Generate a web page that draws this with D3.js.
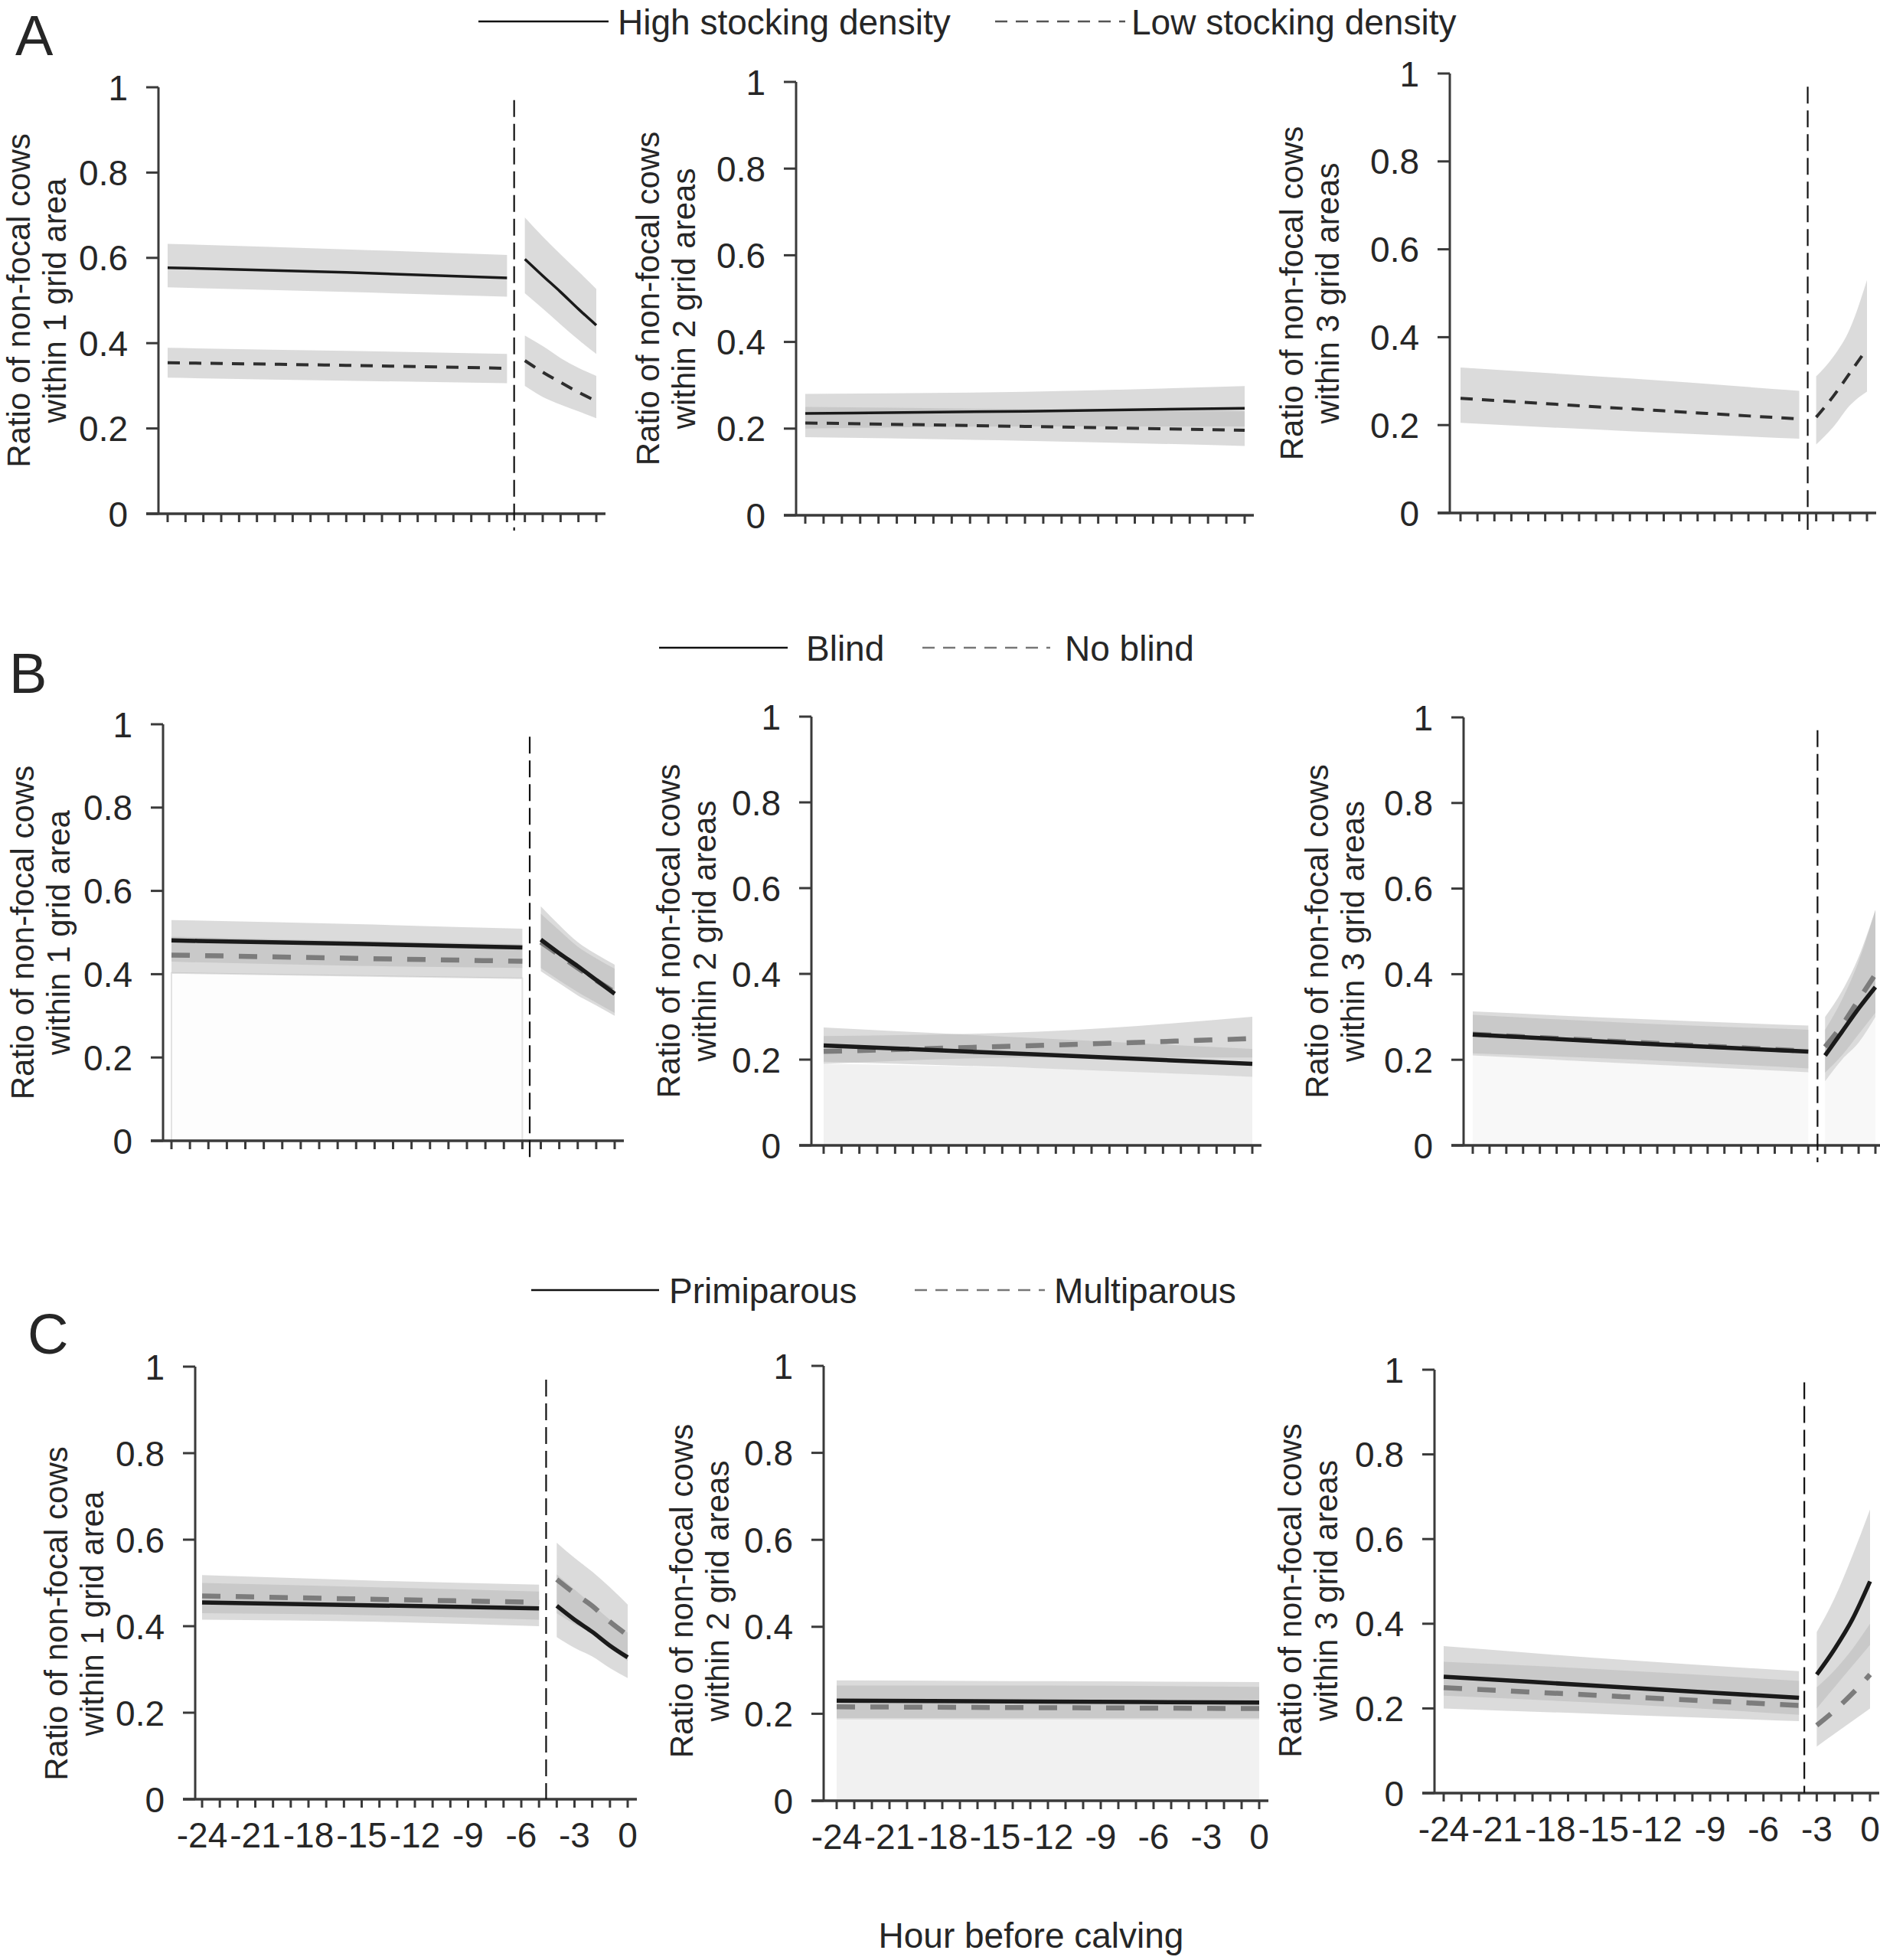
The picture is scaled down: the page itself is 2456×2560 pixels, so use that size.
<!DOCTYPE html>
<html>
<head>
<meta charset="utf-8">
<script src="https://cdn.jsdelivr.net/npm/d3@7/dist/d3.min.js"></script>
<style>
  body { margin: 0; background: #fff; }
  text { font-family: "Liberation Sans", Arial, sans-serif; fill: #262626; }
</style>
</head>
<body>
<div id="chart"></div>
<script>
// hours (-24 .. 0, hour before calving)
const hoursCol1 = [-24, -14, -5, -4, -3, -2, -1, 0];
const hoursCol2 = [-24, -12, 0];
const hoursCol3 = [-24, -14, -4, -3, -2, -1, 0];
const breakHours = [-4.6, null, -3.5, -4.6, null, -3.45, -4.6, null, -3.7];
const xTickLabels = [-24, -21, -18, -15, -12, -9, -6, -3, 0];
const yTickValues = [0, 0.2, 0.4, 0.6, 0.8, 1];

// [mean, lower, upper] per hour
const a1High = [[0.577,0.531,0.633],[0.566,0.520,0.620],[0.553,0.509,0.607],[0.597,0.517,0.695],[0.558,0.481,0.650],[0.520,0.444,0.608],[0.480,0.408,0.568],[0.442,0.375,0.527]];
const a1Low  = [[0.354,0.319,0.389],[0.348,0.312,0.382],[0.341,0.306,0.375],[0.359,0.300,0.418],[0.332,0.274,0.393],[0.308,0.256,0.365],[0.285,0.240,0.342],[0.264,0.224,0.323]];
const a2High = [[0.235,0.200,0.280],[0.240,0.205,0.285],[0.247,0.205,0.298]];
const a2Low  = [[0.213,0.180,0.250],[0.205,0.172,0.245],[0.196,0.160,0.240]];
const a3Low  = [[0.261,0.205,0.331],[0.237,0.186,0.306],[0.214,0.169,0.278],[0.218,0.156,0.311],[0.265,0.195,0.355],[0.319,0.245,0.420],[0.374,0.276,0.530]];

const b1Blind   = [[0.481,0.430,0.530],[0.473,0.420,0.520],[0.464,0.415,0.509],[0.483,0.407,0.563],[0.450,0.378,0.518],[0.419,0.349,0.477],[0.386,0.325,0.448],[0.353,0.300,0.423]];
const b1NoBlind = [[0.446,0.403,0.490],[0.438,0.396,0.480],[0.431,0.390,0.472],[0.477,0.415,0.545],[0.446,0.385,0.505],[0.415,0.357,0.466],[0.385,0.332,0.438],[0.357,0.307,0.413]];
const b2Blind   = [[0.233,0.195,0.275],[0.212,0.180,0.250],[0.190,0.160,0.225]];
const b2NoBlind = [[0.219,0.190,0.255],[0.233,0.205,0.265],[0.249,0.205,0.300]];
const b3Blind   = [[0.259,0.210,0.313],[0.238,0.190,0.295],[0.219,0.171,0.280],[0.210,0.150,0.270],[0.265,0.200,0.340],[0.320,0.240,0.430],[0.370,0.300,0.550]];
const b3NoBlind = [[0.260,0.215,0.305],[0.240,0.200,0.285],[0.220,0.180,0.270],[0.230,0.170,0.300],[0.280,0.210,0.360],[0.340,0.260,0.440],[0.400,0.310,0.550]];

const c1Prim  = [[0.455,0.415,0.500],[0.448,0.410,0.490],[0.441,0.400,0.480],[0.447,0.375,0.520],[0.415,0.350,0.485],[0.387,0.330,0.450],[0.355,0.303,0.415],[0.328,0.280,0.385]];
const c1Multi = [[0.470,0.430,0.518],[0.462,0.425,0.505],[0.455,0.415,0.496],[0.508,0.430,0.593],[0.476,0.405,0.558],[0.447,0.385,0.526],[0.410,0.350,0.490],[0.379,0.320,0.450]];
const c2Prim  = [[0.230,0.190,0.265],[0.228,0.190,0.265],[0.226,0.190,0.262]];
const c2Multi = [[0.216,0.187,0.277],[0.214,0.187,0.275],[0.212,0.187,0.273]];
const c3Prim  = [[0.275,0.230,0.347],[0.250,0.210,0.315],[0.225,0.185,0.288],[0.280,0.200,0.380],[0.340,0.250,0.460],[0.410,0.300,0.560],[0.500,0.350,0.670]];
const c3Multi = [[0.249,0.200,0.310],[0.228,0.185,0.290],[0.207,0.170,0.265],[0.160,0.110,0.250],[0.195,0.140,0.290],[0.235,0.170,0.340],[0.280,0.200,0.400]];

const legendA = ['High stocking density', 'Low stocking density'];
const legendB = ['Blind', 'No blind'];
const legendC = ['Primiparous', 'Multiparous'];
const panelLetters = ['A', 'B', 'C'];
const yTitleLine1 = 'Ratio of non-focal cows';
const yTitleLine2 = ['within 1 grid area', 'within 2 grid areas', 'within 3 grid areas'];
const xTitle = 'Hour before calving';

// panels: solid series first, dashed second
const panels = [
  { hours: hoursCol1, solid: a1High, dashed: a1Low },
  { hours: hoursCol2, solid: a2High, dashed: a2Low },
  { hours: hoursCol3, solid: null,   dashed: a3Low },
  { hours: hoursCol1, solid: b1Blind, dashed: b1NoBlind },
  { hours: hoursCol2, solid: b2Blind, dashed: b2NoBlind },
  { hours: hoursCol3, solid: b3Blind, dashed: b3NoBlind },
  { hours: hoursCol1, solid: c1Prim, dashed: c1Multi },
  { hours: hoursCol2, solid: c2Prim, dashed: c2Multi },
  { hours: hoursCol3, solid: c3Prim, dashed: c3Multi }
];

// layout of each panel in page pixels
const boxes = [
  { ax: 207,  top: 114,  bot: 671,  x24: 219,  x0: 779,  tx: -183, ty: 0,  floor: null },
  { ax: 1040, top: 107,  bot: 673,  x24: 1052, x0: 1626, tx: -194, ty: 0,  floor: null },
  { ax: 1894, top: 96,   bot: 670,  x24: 1908, x0: 2439, tx: -207, ty: 0,  floor: null },
  { ax: 213,  top: 946,  bot: 1490, x24: 224,  x0: 803,  tx: -184, ty: 0,  floor: 'edge' },
  { ax: 1060, top: 936,  bot: 1496, x24: 1076, x0: 1636, tx: -187, ty: 0,  floor: '#f1f1f1' },
  { ax: 1912, top: 937,  bot: 1496, x24: 1924, x0: 2450, tx: -192, ty: 0,  floor: '#f8f8f8' },
  { ax: 255,  top: 1785, bot: 2350, x24: 264,  x0: 820,  tx: -182, ty: 40, floor: null },
  { ax: 1076, top: 1784, bot: 2352, x24: 1093, x0: 1645, tx: -186, ty: 10, floor: '#f1f1f1' },
  { ax: 1874, top: 1789, bot: 2342, x24: 1886, x0: 2443, tx: -189, ty: 12, floor: null }
];

const W = 2456, H = 2560;
const svg = d3.select('#chart').append('svg')
  .attr('width', W).attr('height', H)
  .attr('viewBox', `0 0 ${W} ${H}`);

const axisColor = '#3a3a3a';

panels.forEach((p, i) => {
  const b = boxes[i];
  const row = Math.floor(i / 3), col = i % 3;
  const x = d3.scaleLinear().domain([-24, 0]).range([b.x24, b.x0]);
  const y = d3.scaleLinear().domain([0, 1]).range([b.bot, b.top]);
  const g = svg.append('g');
  const brk = breakHours[i];

  const toPts = arr => arr.map((v, k) => ({ h: p.hours[k], m: v[0], lo: v[1], hi: v[2] }));
  const split = pts => brk === null ? [pts] : [pts.filter(d => d.h < brk), pts.filter(d => d.h > brk)];

  const area = d3.area().x(d => x(d.h)).y0(d => y(d.lo)).y1(d => y(d.hi)).curve(d3.curveMonotoneX);
  const line = d3.line().x(d => x(d.h)).y(d => y(d.m)).curve(d3.curveMonotoneX);

  const series = [p.solid, p.dashed].filter(s => s).map(toPts);

  // faint fill from 0 up to the lowest band edge
  if (b.floor) {
    const floorPts = p.hours.map((h, k) => ({ h: h, lo: 0, hi: d3.min(series, s => s[k].lo) }));
    split(floorPts).forEach((seg, si) => {
      if (b.floor === 'edge' && si > 0) return;
      g.append('path')
        .attr('d', area(seg))
        .attr('fill', b.floor === 'edge' ? '#fdfdfd' : b.floor)
        .attr('stroke', b.floor === 'edge' ? '#e2e2e2' : 'none')
        .attr('stroke-width', 2);
    });
  }

  // confidence bands
  series.forEach(s => {
    split(s).forEach(seg => {
      g.append('path')
        .attr('d', area(seg))
        .attr('fill', '#b8b8b8')
        .attr('fill-opacity', 0.5);
    });
  });

  // mean lines
  const drawLine = (s, dashed) => {
    split(s).forEach(seg => {
      g.append('path')
        .attr('d', line(seg))
        .attr('fill', 'none')
        .attr('stroke', dashed ? (row === 0 ? '#2e2e2e' : '#7c7c7c') : '#1a1a1a')
        .attr('stroke-width', dashed ? (row === 0 ? 4 : 6.5) : (row === 0 ? 3.5 : 5.5))
        .attr('stroke-dasharray', dashed ? (row === 0 ? '16,12' : '24,20') : null);
    });
  };
  if (p.dashed) drawLine(toPts(p.dashed), true);
  if (p.solid) drawLine(toPts(p.solid), false);

  // y axis
  g.append('line')
    .attr('x1', b.ax).attr('x2', b.ax)
    .attr('y1', y(1)).attr('y2', y(0))
    .attr('stroke', axisColor).attr('stroke-width', 3);
  yTickValues.forEach(v => {
    g.append('line')
      .attr('x1', b.ax - 16).attr('x2', b.ax)
      .attr('y1', y(v)).attr('y2', y(v))
      .attr('stroke', axisColor).attr('stroke-width', 3);
    g.append('text')
      .attr('x', b.ax - 40).attr('y', y(v))
      .attr('dy', '0.36em')
      .attr('text-anchor', 'end')
      .attr('font-size', 46)
      .text(d3.format('~g')(v));
  });

  // x axis
  g.append('line')
    .attr('x1', b.ax - 16).attr('x2', x(0) + 12)
    .attr('y1', y(0)).attr('y2', y(0))
    .attr('stroke', axisColor).attr('stroke-width', 3.5);
  d3.range(-24, 1).forEach(h => {
    g.append('line')
      .attr('x1', x(h)).attr('x2', x(h))
      .attr('y1', y(0)).attr('y2', y(0) + 11)
      .attr('stroke', axisColor).attr('stroke-width', 3);
  });
  if (row === 2) {
    xTickLabels.forEach(h => {
      g.append('text')
        .attr('x', x(h)).attr('y', y(0) + 63)
        .attr('text-anchor', 'middle')
        .attr('font-size', 46)
        .text(h);
    });
  }

  // change point
  if (brk !== null) {
    g.append('line')
      .attr('x1', x(brk)).attr('x2', x(brk))
      .attr('y1', y(0.97)).attr('y2', y(0) + (row === 2 ? 0 : 22))
      .attr('stroke', '#111').attr('stroke-width', 2.2)
      .attr('stroke-dasharray', '22,9');
  }

  // y title
  const cy = (b.top + b.bot) / 2 + b.ty;
  const tg = g.append('g').attr('transform', `translate(${b.ax + b.tx},${cy}) rotate(-90)`);
  tg.append('text').attr('x', 0).attr('y', 0).attr('dy', '0.35em')
    .attr('text-anchor', 'middle').attr('font-size', 42).text(yTitleLine1);
  tg.append('text').attr('x', 0).attr('y', 47).attr('dy', '0.35em')
    .attr('text-anchor', 'middle').attr('font-size', 42).text(yTitleLine2[col]);
});

// panel letters
const letterPos = [[20, 72], [12, 905], [36, 1768]];
panelLetters.forEach((t, k) => {
  svg.append('text')
    .attr('x', letterPos[k][0]).attr('y', letterPos[k][1])
    .attr('font-size', 74)
    .text(t);
});

// legends
const legends = [
  { labels: legendA, y: 28, solid: [625, 795], dashed: [1300, 1470], tx: [807, 1478], dashColor: '#555' },
  { labels: legendB, y: 846, solid: [861, 1029], dashed: [1205, 1372], tx: [1053, 1391], dashColor: '#777' },
  { labels: legendC, y: 1685, solid: [694, 861], dashed: [1195, 1365], tx: [874, 1377], dashColor: '#777' }
];
legends.forEach(L => {
  svg.append('line')
    .attr('x1', L.solid[0]).attr('x2', L.solid[1])
    .attr('y1', L.y).attr('y2', L.y)
    .attr('stroke', '#111').attr('stroke-width', 2.5);
  svg.append('line')
    .attr('x1', L.dashed[0]).attr('x2', L.dashed[1])
    .attr('y1', L.y).attr('y2', L.y)
    .attr('stroke', L.dashColor).attr('stroke-width', 2.5)
    .attr('stroke-dasharray', '16,11');
  L.labels.forEach((t, k) => {
    svg.append('text')
      .attr('x', L.tx[k]).attr('y', L.y)
      .attr('dy', '0.36em')
      .attr('font-size', 46)
      .text(t);
  });
});

svg.append('text')
  .attr('x', 1347).attr('y', 2544)
  .attr('text-anchor', 'middle')
  .attr('font-size', 46)
  .text(xTitle);
</script>
</body>
</html>
